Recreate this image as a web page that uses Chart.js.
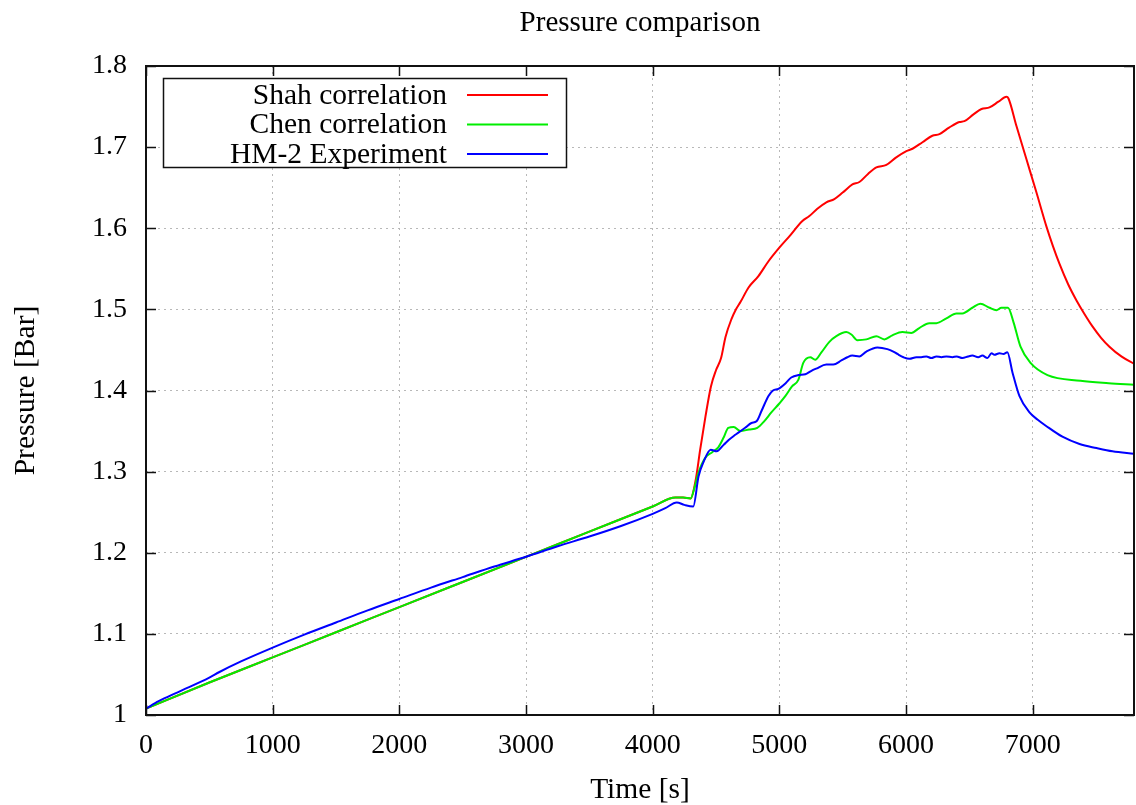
<!DOCTYPE html>
<html>
<head>
<meta charset="utf-8">
<title>Pressure comparison</title>
<script src="https://cdn.jsdelivr.net/npm/chart.js@4/dist/chart.umd.min.js"></script>
<style>
  html, body { margin: 0; padding: 0; background: #ffffff; }
  #wrap { width: 1136px; height: 805px; }
</style>
</head>
<body>
<div id="wrap"><canvas id="chart" width="1136" height="805"></canvas></div>
<script>
// Time axis ticks [s] and pressure ticks [Bar]
const timeTicks = [0, 1000, 2000, 3000, 4000, 5000, 6000, 7000];
const pressureTicks = [1, 1.1, 1.2, 1.3, 1.4, 1.5, 1.6, 1.7, 1.8];

// Shah correlation
const shahTime = [0, 500, 1000, 1500, 2000, 2500, 3000, 3500, 4000, 4180, 4240, 4300,
  4340, 4375, 4417, 4460, 4500, 4540, 4575, 4622, 4654, 4693, 4757, 4835, 4913, 5000,
  5079, 5182, 5237, 5300, 5371, 5434, 5500, 5577, 5632, 5700, 5766, 5845, 5920, 6003,
  6051, 6130, 6208, 6264, 6340, 6422, 6461, 6530, 6596, 6659, 6730, 6793, 6809, 6872,
  6951, 7030, 7109, 7160, 7212, 7280, 7346, 7410, 7472, 7540, 7606, 7700, 7800];
const shahP = [1.008, 1.040, 1.071, 1.102, 1.133, 1.164, 1.195, 1.226, 1.257, 1.268, 1.268, 1.267,
  1.290, 1.327, 1.368, 1.405, 1.425, 1.440, 1.466, 1.488, 1.499, 1.509, 1.527, 1.541, 1.559, 1.576,
  1.590, 1.609, 1.615, 1.624, 1.632, 1.636, 1.644, 1.654, 1.657, 1.667, 1.675, 1.678, 1.687, 1.695,
  1.698, 1.706, 1.714, 1.716, 1.724, 1.731, 1.732, 1.740, 1.747, 1.749, 1.756, 1.762, 1.760, 1.726,
  1.685, 1.644, 1.602, 1.578, 1.556, 1.531, 1.511, 1.494, 1.479, 1.465, 1.454, 1.442, 1.433];

// Chen correlation
const chenTime = [0, 500, 1000, 1500, 2000, 2500, 3000, 3500, 4000, 4180, 4240, 4300,
  4330, 4360, 4415, 4470, 4518, 4560, 4597, 4640, 4692, 4760, 4826, 4880, 4937, 5000,
  5047, 5100, 5150, 5189, 5244, 5283, 5332, 5395, 5450, 5529, 5569, 5616, 5687, 5766,
  5829, 5892, 5971, 6042, 6105, 6184, 6240, 6319, 6398, 6445, 6524, 6587, 6659, 6714,
  6753, 6805, 6849, 6904, 6983, 7117, 7378, 7600, 7800];
const chenP = [1.008, 1.040, 1.071, 1.102, 1.133, 1.164, 1.195, 1.226, 1.257, 1.268, 1.268, 1.267,
  1.280, 1.298, 1.317, 1.324, 1.330, 1.342, 1.354, 1.355, 1.350, 1.352, 1.354, 1.362, 1.373, 1.384,
  1.393, 1.405, 1.413, 1.434, 1.441, 1.438, 1.447, 1.460, 1.467, 1.472, 1.469, 1.462, 1.463, 1.467,
  1.463, 1.468, 1.472, 1.471, 1.477, 1.483, 1.483, 1.489, 1.495, 1.495, 1.502, 1.507, 1.502, 1.499,
  1.502, 1.502, 1.484, 1.454, 1.434, 1.419, 1.412, 1.409, 1.407];

// HM-2 Experiment
const expTime = [0, 100, 250, 500, 580, 750, 1000, 1250, 1500, 1750, 2000, 2250, 2500, 2750,
  3000, 3250, 3500, 3750, 4000, 4100, 4190, 4250, 4320, 4362, 4402, 4458, 4505, 4560, 4600,
  4640, 4677, 4730, 4780, 4820, 4860, 4913, 4950, 4992, 5050, 5094, 5150, 5205, 5250, 5292,
  5371, 5426, 5490, 5537, 5576, 5632, 5687, 5774, 5853, 5900, 5932, 5980, 6027, 6082, 6120,
  6161, 6200, 6240, 6280, 6319, 6366, 6400, 6445, 6490, 6524, 6570, 6603, 6643, 6675, 6698,
  6738, 6770, 6800, 6841, 6896, 6975, 7040, 7109, 7235, 7370, 7504, 7630, 7800];
const expP = [1.008, 1.017, 1.028, 1.046, 1.053, 1.066, 1.083, 1.099, 1.114, 1.129, 1.143, 1.157,
  1.170, 1.183, 1.195, 1.208, 1.220, 1.233, 1.248, 1.255, 1.262, 1.259, 1.257, 1.294, 1.312, 1.327,
  1.325, 1.333, 1.339, 1.344, 1.348, 1.354, 1.360, 1.362, 1.375, 1.393, 1.400, 1.402, 1.409, 1.416,
  1.419, 1.420, 1.424, 1.427, 1.432, 1.432, 1.437, 1.441, 1.443, 1.442, 1.448, 1.453, 1.451, 1.448,
  1.445, 1.441, 1.439, 1.441, 1.441, 1.442, 1.440, 1.442, 1.441, 1.442, 1.441, 1.442, 1.440, 1.442,
  1.443, 1.441, 1.443, 1.440, 1.446, 1.444, 1.446, 1.445, 1.447, 1.422, 1.393, 1.373, 1.364, 1.356,
  1.343, 1.334, 1.329, 1.325, 1.322];

const seriesNames = ['Shah correlation', 'Chen correlation', 'HM-2 Experiment'];
const seriesColors = ['#ff0000', '#00ee00', '#0000ff'];

const FONT = "'Liberation Serif', 'Times New Roman', 'DejaVu Serif', serif";

function toPoints(xs, ys) {
  return xs.map((x, i) => ({ x: x, y: ys[i] }));
}

// Plot title, centred over the plotting area
const plotTitlePlugin = {
  id: 'plotTitle',
  afterDraw(chart) {
    const { ctx, chartArea: a } = chart;
    ctx.save();
    ctx.font = '29px ' + FONT;
    ctx.fillStyle = '#000000';
    ctx.textAlign = 'center';
    ctx.textBaseline = 'middle';
    ctx.fillText('Pressure comparison', (a.left + a.right) / 2, 23);
    ctx.restore();
  }
};

// Frame with inward, mirrored tick marks (drawn over the plot)
const framePlugin = {
  id: 'frame',
  afterDatasetsDraw(chart) {
    const { ctx, chartArea: a, scales } = chart;
    const len = 10;
    ctx.save();
    ctx.strokeStyle = '#111111';
    ctx.lineWidth = 1.5;
    ctx.beginPath();
    timeTicks.forEach(t => {
      const x = Math.round(scales.x.getPixelForValue(t)) + 0.5;
      ctx.moveTo(x, a.bottom); ctx.lineTo(x, a.bottom - len);
      ctx.moveTo(x, a.top); ctx.lineTo(x, a.top + len);
    });
    pressureTicks.forEach(p => {
      const y = Math.round(scales.y.getPixelForValue(p)) + 0.5;
      ctx.moveTo(a.left, y); ctx.lineTo(a.left + len, y);
      ctx.moveTo(a.right, y); ctx.lineTo(a.right - len, y);
    });
    ctx.stroke();
    ctx.lineWidth = 2;
    ctx.strokeRect(a.left, a.top, a.right - a.left, a.bottom - a.top);
    ctx.restore();
  }
};

// Boxed key in the upper-left corner of the plot
const keyPlugin = {
  id: 'keyBox',
  afterDraw(chart) {
    const { ctx, chartArea: a } = chart;
    const bx = a.left + 17, by = a.top + 12, bw = 403, bh = 89;
    ctx.save();
    ctx.fillStyle = '#ffffff';
    ctx.fillRect(bx, by, bw, bh);
    ctx.strokeStyle = '#111111';
    ctx.lineWidth = 1.5;
    ctx.strokeRect(bx + 0.5, by + 0.5, bw, bh);
    ctx.font = '29.5px ' + FONT;
    ctx.textAlign = 'right';
    ctx.textBaseline = 'middle';
    // key rows follow the legend order, not the drawing order
    const rows = chart.data.datasets.slice().sort((p, q) => q.order - p.order);
    rows.forEach((ds, i) => {
      const ry = by + 17 + i * 29.5;
      ctx.fillStyle = '#000000';
      ctx.fillText(ds.label, bx + 284, ry + 1);
      ctx.strokeStyle = ds.borderColor;
      ctx.lineWidth = 2;
      ctx.beginPath();
      ctx.moveTo(bx + 304, ry);
      ctx.lineTo(bx + 385, ry);
      ctx.stroke();
    });
    ctx.restore();
  }
};

// Lower order is painted on top: experiment over Chen over Shah
const datasets = [
  { label: seriesNames[0], data: toPoints(shahTime, shahP), borderColor: seriesColors[0], order: 3 },
  { label: seriesNames[1], data: toPoints(chenTime, chenP), borderColor: seriesColors[1], order: 2 },
  { label: seriesNames[2], data: toPoints(expTime, expP), borderColor: seriesColors[2], order: 1 }
].map(d => Object.assign(d, {
  borderWidth: 2,
  pointRadius: 0,
  fill: false,
  cubicInterpolationMode: 'monotone'
}));

new Chart(document.getElementById('chart'), {
  type: 'line',
  data: { datasets: datasets },
  plugins: [plotTitlePlugin, framePlugin, keyPlugin],
  options: {
    responsive: false,
    animation: false,
    devicePixelRatio: 1,
    layout: { padding: { left: 0, right: 2, top: 66, bottom: 0 } },
    plugins: {
      legend: { display: false },
      tooltip: { enabled: false },
      title: { display: false }
    },
    scales: {
      x: {
        type: 'linear',
        min: 0,
        max: 7800,
        afterFit(scale) { scale.height = 90; },
        afterBuildTicks(scale) { scale.ticks = timeTicks.map(v => ({ value: v })); },
        ticks: {
          color: '#000000',
          font: { family: FONT, size: 28 },
          padding: 14,
          maxRotation: 0,
          callback: v => String(v)
        },
        grid: { color: '#b8b8b8', lineWidth: 1, drawTicks: false },
        border: { display: false, dash: [2, 4] },
        title: {
          display: true,
          text: 'Time [s]',
          color: '#000000',
          font: { family: FONT, size: 29.5 },
          padding: { top: 0, bottom: -3 }
        }
      },
      y: {
        type: 'linear',
        min: 1,
        max: 1.8,
        afterFit(scale) { scale.width = 146; },
        afterBuildTicks(scale) { scale.ticks = pressureTicks.map(v => ({ value: v })); },
        ticks: {
          color: '#000000',
          font: { family: FONT, size: 28 },
          padding: 19,
          callback: v => String(Number(v.toFixed(1)))
        },
        grid: { color: '#b8b8b8', lineWidth: 1, drawTicks: false },
        border: { display: false, dash: [2, 4] },
        title: {
          display: true,
          text: 'Pressure [Bar]',
          color: '#000000',
          font: { family: FONT, size: 29.5 },
          padding: { top: 9, bottom: 0 }
        }
      }
    }
  }
});
</script>
</body>
</html>
